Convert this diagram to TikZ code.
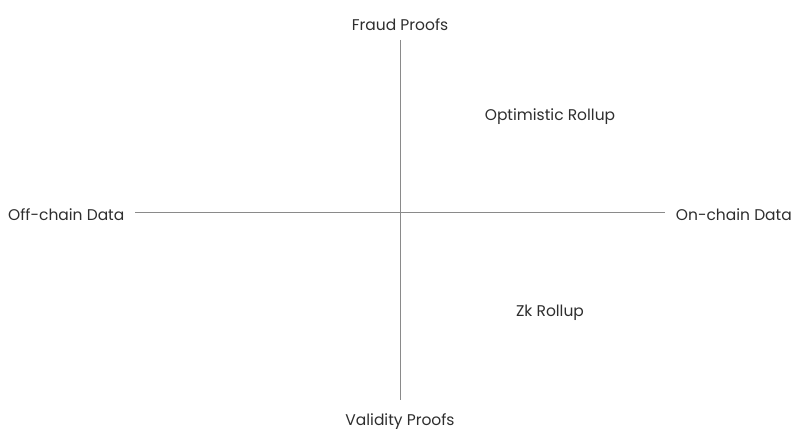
\documentclass[tikz,border=0pt]{standalone}
\usepackage{fontspec}
\setmainfont{Poppins}
\definecolor{axis}{HTML}{8A8A8A}
\definecolor{txt}{HTML}{2E2E2E}
\begin{document}
\begin{tikzpicture}[x=1pt,y=-1pt,
  lbl/.style={text=txt,font=\fontsize{15.5}{18}\selectfont,inner sep=0pt},
  axisline/.style={draw=axis,line width=0.9pt}]
\useasboundingbox (0,0) rectangle (800,443);
\node[lbl] (top) at (400,24.5) {Fraud Proofs};
\node[lbl] (bot) at (400,421.5) {Validity Proofs};
\node[lbl,anchor=west] (left) at (8,214.5) {Off-chain Data};
\node[lbl,anchor=east] (right) at (792,214.5) {On-chain Data};
\node[lbl] (opt) at (550,116.5) {Optimistic Rollup};
\node[lbl] (zk) at (550,312.5) {Zk Rollup};
\coordinate (vt) at (400,40);
\coordinate (vb) at (400,400);
\coordinate (hl) at (135,212);
\coordinate (hr) at (665,212);
\draw[axisline] (vt) -- (vb);
\draw[axisline] (hl) -- (hr);
\end{tikzpicture}
\end{document}
